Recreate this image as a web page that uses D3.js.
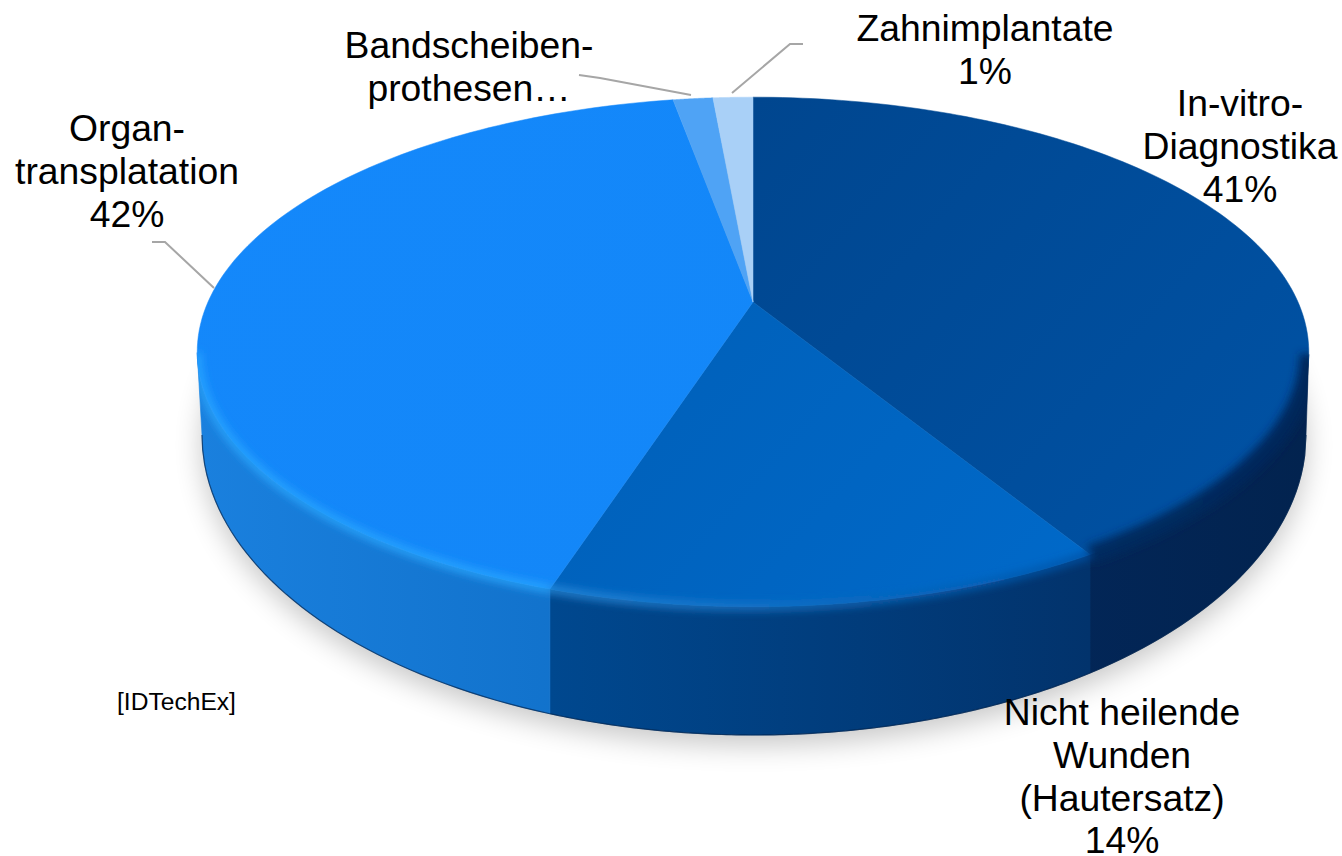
<!DOCTYPE html>
<html lang="de">
<head>
<meta charset="utf-8">
<script src="https://cdn.jsdelivr.net/npm/d3@7"></script>
<style>
  html, body { margin: 0; padding: 0; background: #fff; }
  text { font-family: "Liberation Sans", Arial, sans-serif; fill: #000; }
</style>
</head>
<body>
<svg id="chart" width="1342" height="856"></svg>
<script>
// Slice shares in percent, clockwise from twelve o'clock
const categories = ["In-vitro-Diagnostika", "Nicht heilende Wunden (Hautersatz)", "Organtransplatation", "Bandscheibenprothesen", "Zahnimplantate"];
const shares = [41.4, 13.5, 42.3, 1.4, 1.4];
const labelLines = [
  ["In-vitro-", "Diagnostika"],
  ["Nicht heilende", "Wunden", "(Hautersatz)"],
  ["Organ-", "transplatation"],
  ["Bandscheiben-", "prothesen…"],
  ["Zahnimplantate"]
];
const showPercent = [true, true, true, false, true];
const sourceNote = "[IDTechEx]";

// Presentation
const topColors = [["#00468f", "#0053a6"], ["#005db4", "#0069c9"], ["#1488fb", "#1387f8"], ["#4fa3f5", "#4fa3f5"], ["#a9d0f7", "#a9d0f7"]];
const wallColors = [["#032a62", "#02234f"], ["#00488f", "#02336c"], ["#1a80de", "#0f6ec6"], ["#1a80de", "#1a80de"], ["#1a80de", "#1a80de"]];
const rimColors = [["#02306a", "#02275a"], ["#2b8cdc", "#0050a4"], ["#2aa8ff", "#2aa8ff"], ["#2aa8ff", "#2aa8ff"], ["#2aa8ff", "#2aa8ff"]];
const labelAnchors = [[1240, 116], [1122, 725], [127, 141], [469, 58], [985, 41]];
const leaders = [null, null, [[214, 288], [165, 242], [152, 242]], [[691, 95], [600, 78], [579, 75]], [[732, 93], [790, 44], [803, 44]]];

// Tilted-disc projection: unit disc to screen, with the near edge enlarged
const apex = { x: 753, y: 302 };
const persp = 0.196, scaleX = 545, scaleY = 245;
const project = a => {
  const u = Math.sin(a), v = Math.cos(a), w = 1 + persp * v;
  return [apex.x + scaleX * u / w, apex.y - scaleY * v / w];
};
// Lower edge of the side wall, as a function of screen x
const base = { cx: 754, cy: 435, rx: 552, ry: 300 };
const lower = ([x]) => {
  const cx = Math.max(base.cx - base.rx, Math.min(base.cx + base.rx, x));
  const t = (cx - base.cx) / base.rx;
  return [cx, base.cy + base.ry * Math.sqrt(Math.max(0, 1 - t * t))];
};

const arcs = d3.pie().sort(null).value(d => d)(shares);
const samples = d => d3.range(0, 121).map(i => d.startAngle + (d.endAngle - d.startAngle) * i / 120);
const isFront = a => Math.cos(a) <= -persp;
const line = d3.line();
const wallPath = d => {
  const pts = samples(d).filter(isFront).map(a => project(a));
  return pts.length ? line(pts.concat(pts.map(p => lower(p)).reverse())) + "Z" : null;
};
const topPath = d => line([[apex.x, apex.y], ...samples(d).map(a => project(a))]) + "Z";
const frontRim = d => {
  const pts = samples(d).filter(isFront).map(a => project(a));
  return pts.length ? line(pts) : null;
};
const frontBase = d => {
  const pts = samples(d).filter(isFront).map(a => lower(project(a)));
  return pts.length ? line(pts) : null;
};

const svg = d3.select("#chart");
const defs = svg.append("defs");

const soft = (id, sd) => defs.append("filter").attr("id", id)
  .attr("filterUnits", "userSpaceOnUse").attr("x", 0).attr("y", 0).attr("width", 1342).attr("height", 856)
  .append("feGaussianBlur").attr("stdDeviation", sd);
soft("shadowBlur", 14);
soft("rimBlur", 4);

const gradient = (id, c, x1, y1, x2, y2) => {
  const g = defs.append("linearGradient").attr("id", id).attr("gradientUnits", "userSpaceOnUse")
    .attr("x1", x1).attr("y1", y1).attr("x2", x2).attr("y2", y2);
  g.append("stop").attr("offset", 0).attr("stop-color", c[0]);
  g.append("stop").attr("offset", 1).attr("stop-color", c[1]);
};

arcs.forEach((d, i) => {
  const rim = samples(d).map(a => project(a));
  const [x0, x1] = d3.extent(rim, p => p[0]);
  gradient("top" + i, topColors[i], x0, apex.y - 200, x1, apex.y + 280);
  gradient("wall" + i, wallColors[i], x0, 0, x1, 0);
  gradient("rim" + i, rimColors[i], x0, 0, x1, 0);
});

// The rim light stays inside the solid body of the pie
const bodyClip = defs.append("clipPath").attr("id", "bodyClip");
arcs.forEach(d => {
  bodyClip.append("path").attr("d", topPath(d));
  const w = wallPath(d);
  if (w) bodyClip.append("path").attr("d", w);
});

// Soft cast shadow under the disc
const silhouette = d3.range(0, 361).map(t => {
  const a = t * Math.PI / 180;
  return [base.cx + base.rx * Math.sin(a), base.cy + base.ry * Math.cos(a)];
});
svg.append("path").attr("d", line(silhouette) + "Z").attr("fill", "#000")
  .attr("opacity", 0.22).attr("transform", "translate(0,10)").attr("filter", "url(#shadowBlur)");

// Side walls
svg.append("g").selectAll("path").data(arcs).join("path")
  .attr("d", wallPath)
  .attr("fill", (d, i) => `url(#wall${i})`)
  .attr("stroke", (d, i) => `url(#wall${i})`).attr("stroke-width", 0.6);

// Top faces
svg.append("g").selectAll("path").data(arcs).join("path")
  .attr("d", topPath)
  .attr("fill", (d, i) => `url(#top${i})`)
  .attr("stroke", (d, i) => `url(#top${i})`).attr("stroke-width", 0.5);

// Blurred light along the near rim
svg.append("g").attr("clip-path", "url(#bodyClip)")
  .append("g").attr("filter", "url(#rimBlur)").selectAll("path").data(arcs).join("path")
  .attr("d", frontRim)
  .attr("fill", "none")
  .attr("stroke", (d, i) => `url(#rim${i})`)
  .attr("stroke-width", (d, i) => i === 0 ? 18 : 7);

// Thin dark edge along the foot of the wall
svg.append("g").selectAll("path").data(arcs).join("path")
  .attr("d", frontBase)
  .attr("fill", "none").attr("stroke", "#01244f").attr("stroke-opacity", 0.7).attr("stroke-width", 1.2);

// Leader lines
svg.append("g").selectAll("path").data(leaders.filter(Boolean)).join("path")
  .attr("d", d => line(d)).attr("fill", "none").attr("stroke", "#a6a6a6").attr("stroke-width", 2);

// Category labels with rounded percentages
const lineHeight = 42.8;
const labels = svg.append("g").attr("font-size", 37.3).attr("text-anchor", "middle");
categories.forEach((name, i) => {
  const rows = labelLines[i].concat(showPercent[i] ? [Math.round(shares[i]) + "%"] : []);
  const [ax, ay] = labelAnchors[i];
  labels.append("g").attr("aria-label", name).selectAll("text").data(rows).join("text")
    .attr("x", ax).attr("y", (d, k) => ay + k * lineHeight).text(d => d);
});

svg.append("text").attr("x", 117).attr("y", 710).attr("font-size", 24.6).text(sourceNote);
</script>
</body>
</html>
